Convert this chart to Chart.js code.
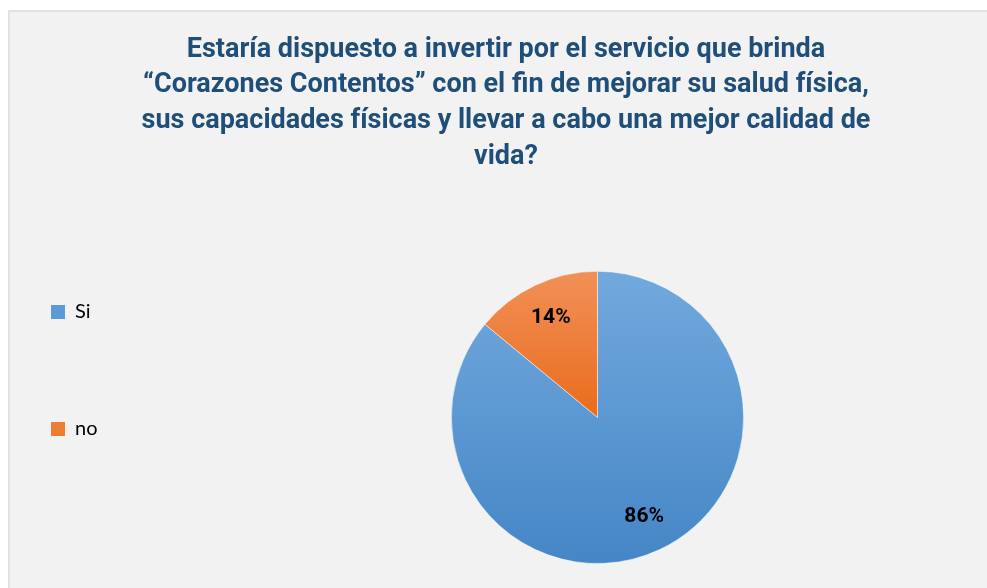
<!DOCTYPE html>
<html>
<head>
<meta charset="utf-8">
<script src="https://cdn.jsdelivr.net/npm/chart.js@4.4.1/dist/chart.umd.min.js"></script>
<style>
  body { margin: 0; background: #fff; overflow: hidden; }
  .frame {
    position: absolute; left: 8px; top: 10px;
    width: 979px; height: 578px; box-sizing: border-box;
    border-left: 2px solid #dde3ea; border-top: 2px solid #dde3ea;
    background: #f2f2f2;
  }
</style>
</head>
<body>
<div class="frame"><canvas id="myChart" width="977" height="576"></canvas></div>
<script>
let titleLines = [
  "Estaría dispuesto a invertir por el servicio que brinda",
  "“Corazones Contentos” con el fin de mejorar su salud física,",
  "sus capacidades físicas y llevar a cabo una mejor calidad de",
  "vida?"
];
let xValues = ["Si", "no"];
let yValues = [86, 14];
let topColors = ["#72a9dd", "#f29058"];
let bottomColors = ["#4586c6", "#e96c1c"];
let legendColors = ["#5b9bd5", "#ed7d31"];

let total = yValues.reduce((a, b) => a + b, 0);

// vertical extent of slice i, so each slice gets its own top-to-bottom gradient
function sliceRange(i, cy, r) {
  let before = yValues.slice(0, i).reduce((a, b) => a + b, 0);
  let a0 = -Math.PI / 2 + 2 * Math.PI * before / total;
  let a1 = a0 + 2 * Math.PI * yValues[i] / total;
  let ys = [cy, cy + r * Math.sin(a0), cy + r * Math.sin(a1)];
  [-Math.PI / 2, Math.PI / 2, 3 * Math.PI / 2].forEach(a => {
    if (a >= a0 && a <= a1) ys.push(cy + r * Math.sin(a));
  });
  return [Math.min(...ys), Math.max(...ys)];
}

function sliceFill(context) {
  let i = context.dataIndex;
  let area = context.chart.chartArea;
  if (!area) return legendColors[i];
  let cy = (area.top + area.bottom) / 2;
  let r = Math.min(area.right - area.left, area.bottom - area.top) / 2;
  let range = sliceRange(i, cy, r);
  let g = context.chart.ctx.createLinearGradient(0, range[0], 0, range[1]);
  g.addColorStop(0, topColors[i]);
  g.addColorStop(1, bottomColors[i]);
  return g;
}

// make the legend column wider so the pie sits where it does in the original
const legendWidth = {
  id: 'legendWidth',
  beforeInit(chart) {
    const fit = chart.legend.fit;
    chart.legend.fit = function () {
      fit.call(this);
      this.width = 183;
    };
  }
};

const sliceLabels = {
  id: 'sliceLabels',
  afterDatasetsDraw(chart) {
    let ctx = chart.ctx;
    let meta = chart.getDatasetMeta(0);
    ctx.save();
    ctx.font = 'bold 21px Roboto';
    ctx.fillStyle = '#000';
    ctx.textAlign = 'center';
    ctx.textBaseline = 'middle';
    meta.data.forEach((arc, i) => {
      let mid = (arc.startAngle + arc.endAngle) / 2;
      let d = arc.outerRadius * 0.75;
      let pct = Math.round(yValues[i] / total * 100) + '%';
      ctx.fillText(pct, arc.x + Math.cos(mid) * d, arc.y + Math.sin(mid) * d);
    });
    ctx.restore();
  }
};

new Chart("myChart", {
  type: "pie",
  data: {
    labels: xValues,
    datasets: [{
      data: yValues,
      backgroundColor: sliceFill,
      borderColor: "rgba(255,255,255,0.5)",
      borderWidth: 1
    }]
  },
  plugins: [legendWidth, sliceLabels],
  options: {
    responsive: false,
    animation: false,
    events: [],
    layout: { padding: { left: 38, right: 23, top: 0, bottom: 24 } },
    plugins: {
      tooltip: { enabled: false },
      title: {
        display: true,
        text: titleLines,
        color: "#1f4e79",
        font: { family: "Roboto", size: 27, weight: "bold", lineHeight: 1.322 },
        padding: { top: 20, bottom: 96 }
      },
      legend: {
        position: "left",
        fullSize: false,
        labels: {
          boxWidth: 14,
          boxHeight: 14,
          padding: 3,
          color: "#595959",
          font: { family: "Lato", size: 20, lineHeight: 5.7 },
          generateLabels: () => xValues.map((label, i) => ({
            text: [label],
            fillStyle: legendColors[i],
            strokeStyle: legendColors[i],
            lineWidth: 0,
            hidden: false,
            index: i
          }))
        }
      }
    }
  }
});
</script>
</body>
</html>
